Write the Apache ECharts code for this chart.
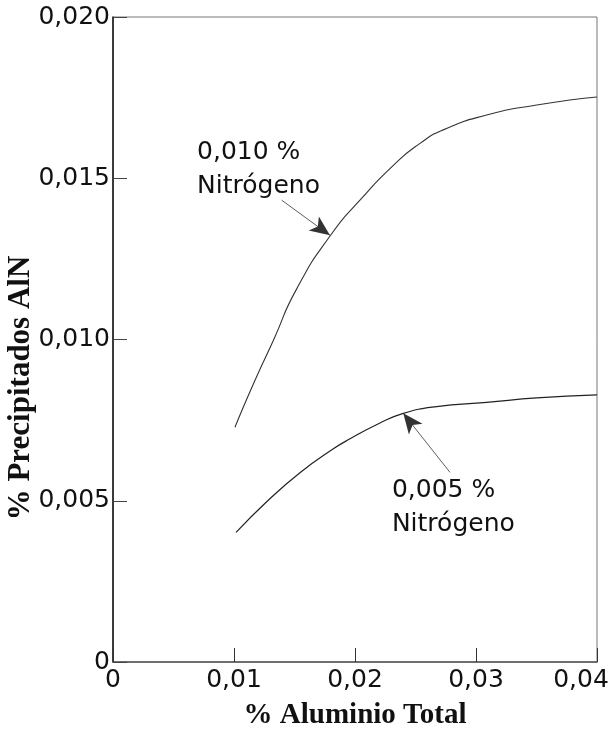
<!DOCTYPE html>
<html>
<head>
<meta charset="utf-8">
<script src="https://cdn.jsdelivr.net/npm/echarts@6/dist/echarts.min.js"></script>
<style>
html,body{margin:0;padding:0;background:#fff;}
#chart{width:610px;height:729px;}
</style>
</head>
<body>
<div id="chart"></div>
<script>
// Data
const aluminioHighN = [0.01008, 0.0116, 0.01325, 0.01518, 0.01807, 0.02041, 0.02317, 0.02537, 0.0273, 0.03088, 0.03502, 0.04];
const precipHighN   = [0.00728, 0.00862, 0.00997, 0.01157, 0.01328, 0.01432, 0.0154, 0.01608, 0.0165, 0.01696, 0.01727, 0.01752];
const aluminioLowN  = [0.01017, 0.0127, 0.01545, 0.01821, 0.01959, 0.0219, 0.02399, 0.02675, 0.03088, 0.03502, 0.04];
const precipLowN    = [0.00402, 0.00497, 0.00587, 0.00661, 0.00692, 0.00738, 0.00771, 0.00792, 0.00805, 0.00819, 0.00828];
const seriesNames   = ['0,010 %\nNitrógeno', '0,005 %\nNitrógeno'];
const xTicks = [0, 0.01, 0.02, 0.03, 0.04];
const yTicks = [0, 0.005, 0.010, 0.015, 0.020];
// annotation anchors (data coordinates)
const arrowHigh = [[0.01394, 0.01432], [0.01793, 0.01323]];
const arrowLow  = [[0.02785, 0.00588], [0.02399, 0.00771]];
const labelHigh = [0.00695, 0.01634];
const labelLow  = [0.02305, 0.00583];

const pairs = (xs, ys) => xs.map((x, i) => [x, ys[i]]);
const fmt = (v, d) => v === 0 ? '0' : v.toFixed(d).replace('.', ',');

const tickFont = 'DejaVu Sans';
const titleFont = 'Liberation Serif';

function annotation(arrow, label, text) {
  return {
    markLine: {
      silent: true,
      symbol: ['none', 'arrow'],
      symbolSize: [13, 20],
      lineStyle: { color: '#333', width: 0.8, type: 'solid' },
      label: { show: false },
      emphasis: { disabled: true },
      data: [[{ coord: arrow[0] }, { coord: arrow[1] }]]
    },
    markPoint: {
      silent: true,
      symbol: 'circle',
      symbolSize: 0,
      label: {
        show: true,
        position: 'inside',
        formatter: text,
        align: 'left',
        verticalAlign: 'top',
        fontFamily: tickFont,
        fontSize: 25,
        lineHeight: 34,
        color: '#111'
      },
      data: [{ coord: label }]
    }
  };
}

const xMax = xTicks[xTicks.length - 1];

const chart = echarts.init(document.getElementById('chart'), null, { renderer: 'canvas' });
chart.setOption({
  animation: false,
  backgroundColor: '#fff',
  grid: { left: 113, right: 13, top: 17, bottom: 67, containLabel: false, outerBoundsMode: 'none',
          show: true, borderColor: '#777', borderWidth: 1 },
  xAxis: {
    type: 'value',
    min: xTicks[0], max: xMax, interval: 0.01,
    name: '% Aluminio Total',
    nameLocation: 'middle',
    nameGap: 39,
    nameMoveOverlap: false,
    nameTextStyle: { fontFamily: titleFont, fontWeight: 'bold', fontSize: 29, color: '#111' },
    axisLine: { lineStyle: { color: '#555', width: 1.5 } },
    axisTick: { show: true, inside: true, length: 14, lineStyle: { color: '#333', width: 1 } },
    axisLabel: {
      formatter: v => v === xMax ? '{last|' + fmt(v, 2) + '}' : fmt(v, 2),
      rich: { last: { fontFamily: tickFont, fontSize: 25, color: '#111', padding: [0, 32, 0, 0] } },
      fontFamily: tickFont, fontSize: 25, color: '#111', margin: 6
    },
    splitLine: { show: false }
  },
  yAxis: {
    type: 'value',
    min: yTicks[0], max: yTicks[yTicks.length - 1], interval: 0.005,
    name: '% Precipitados AlN',
    nameLocation: 'middle',
    nameGap: 77,
    nameMoveOverlap: false,
    nameRotate: 90,
    nameTextStyle: { fontFamily: titleFont, fontWeight: 'bold', fontSize: 31, color: '#111', padding: [0, 97, 0, 0] },
    axisLine: { lineStyle: { color: '#111', width: 1.5 } },
    axisTick: { show: true, inside: true, length: 14, lineStyle: { color: '#444', width: 1 } },
    axisLabel: { formatter: v => fmt(v, 3), fontFamily: tickFont, fontSize: 25, color: '#111', margin: 3 },
    splitLine: { show: false }
  },
  series: [
    Object.assign({
      name: seriesNames[0],
      type: 'line',
      data: pairs(aluminioHighN, precipHighN),
      smooth: 0.6,
      showSymbol: false,
      lineStyle: { color: '#333', width: 1.1 },
      z: 3
    }, annotation(arrowHigh, labelHigh, seriesNames[0])),
    Object.assign({
      name: seriesNames[1],
      type: 'line',
      data: pairs(aluminioLowN, precipLowN),
      smooth: 0.5,
      showSymbol: false,
      lineStyle: { color: '#222', width: 1.2 },
      z: 3
    }, annotation(arrowLow, labelLow, seriesNames[1]))
  ]
});
</script>
</body>
</html>
